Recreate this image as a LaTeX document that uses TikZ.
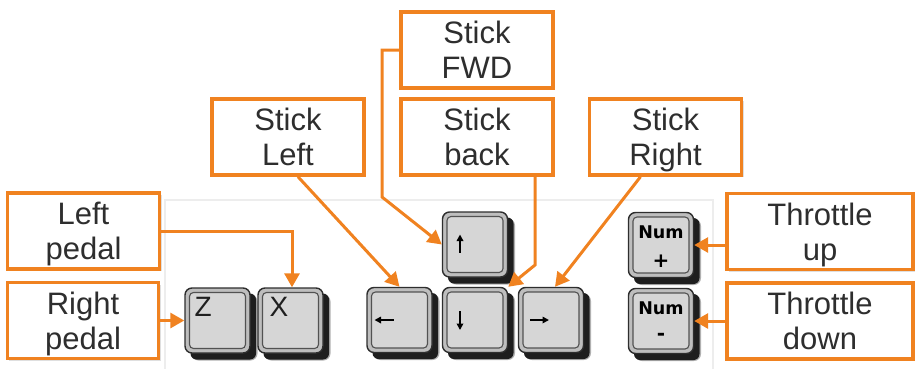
\documentclass[tikz,border=0pt]{standalone}
\usepackage{fontspec}
\setmainfont{Liberation Sans}
\newfontfamily\keyfont{DejaVu Sans}
\usetikzlibrary{arrows.meta,calc,shadows}
\definecolor{org}{RGB}{240,130,32}
\definecolor{keyface}{RGB}{214,214,214}
\definecolor{keyring}{RGB}{190,190,190}
\definecolor{keyshade}{RGB}{30,30,30}
\newcommand{\kcap}[2]{%
  \fill[keyshade!35, rounded corners=7bp] ($(#2)+(-26,-26)$) rectangle ($(#2)+(40,40)$);
  \fill[keyshade, rounded corners=6bp] ($(#2)+(-27,-27)$) rectangle ($(#2)+(38.5,39)$);
  \node[keyouter] (#1) at (#2) {};
  \node[keyinner] at (#2) {};
}
\begin{document}
\begin{tikzpicture}[x=1bp,y=-1bp,
  lbl/.style={draw=org, line width=3.5bp, fill=white, minimum width=152bp, minimum height=76bp,
    inner sep=0pt, align=center, font=\fontsize{31bp}{35bp}\selectfont, text=black!82,
    drop shadow={opacity=0.25, shadow xshift=2bp, shadow yshift=-2bp}},
  conn/.style={draw=org, line width=3bp, -{Triangle[length=14bp,width=15bp]}},
  keyouter/.style={rectangle, rounded corners=7bp, minimum width=65bp, minimum height=65bp,
    inner sep=0pt, fill=keyring, draw=black!82, line width=1.4bp},
  keyinner/.style={rectangle, rounded corners=4bp, minimum width=56bp, minimum height=56bp,
    inner sep=0pt, fill=keyface, draw=black!68, line width=1.1bp},
  keylbl/.style={font=\fontsize{28bp}{28bp}\selectfont, text=black!88, inner sep=0pt},
  numlbl/.style={font=\keyfont\bfseries\fontsize{17.5bp}{17.5bp}\selectfont, text=black, inner sep=0pt},
  numsign/.style={font=\keyfont\bfseries\fontsize{20bp}{20bp}\selectfont, text=black, inner sep=0pt},
  karrow/.style={draw=black, line width=1.8bp, -{Triangle[length=6.5bp,width=6.5bp]}}
]
\useasboundingbox (0,0) rectangle (915,369);
% keyboard panel
\draw[black!7, line width=1.2bp] (165,369) |- (713,200) -- (713,369);

% keys
\kcap{Z}{217.5,320.5}
\kcap{X}{290.5,320.5}
\kcap{kleft}{399.5,320}
\kcap{kdown}{475,320}
\kcap{kright}{551,320}
\kcap{kup}{475,244.5}
\kcap{nplus}{661,245}
\kcap{nminus}{661,321}

% key labels
\node[keylbl, anchor=base west] (zl) at ($(Z.north west)+(10,29)$) {Z};
\node[keylbl, anchor=base west] (xl) at ($(X.north west)+(12,29)$) {X};
\node[numlbl, anchor=base] (np1) at ($(nplus.north)+(0,27)$) {Num};
\node[numsign] (np2) at ($(nplus.north)+(0,49)$) {+};
\node[numlbl, anchor=base] (nm1) at ($(nminus.north)+(0,27)$) {Num};
\node[numsign] (nm2) at ($(nminus.north)+(0,49)$) {-};
\draw[karrow] ($(kup)+(-15,8)$) -- ($(kup)+(-15,-10)$);
\draw[karrow] ($(kleft)+(-6,0)$) -- ($(kleft)+(-25,0)$);
\draw[karrow] ($(kdown)+(-15,-9)$) -- ($(kdown)+(-15,10)$);
\draw[karrow] ($(kright)+(-21,0)$) -- ($(kright)+(-2,0)$);

% label boxes
\node[lbl] (fwd) at (477,50) {Stick\\FWD};
\node[lbl] (back) at (477,137) {Stick\\back};
\node[lbl] (sl) at (288,137) {Stick\\Left};
\node[lbl] (sr) at (665.5,137) {Stick\\\smash{Right}};
\node[lbl] (lp) at (83.5,231) {Left\\\smash{pedal}};
\node[lbl, minimum width=151bp] (rp) at (83,320.5) {Right\\\smash{pedal}};
\node[lbl, minimum width=186bp] (tu) at (820,231.5) {Throttle\\\smash{up}};
\node[lbl, minimum width=186bp] (td) at (820,321) {Throttle\\down};

% connectors
\coordinate (fwdbend) at (382,197);
\coordinate (backbend) at (535,265);
\draw[conn] (fwd.west) -| (fwdbend) -- (kup.west);
\draw[conn] (back.south -| backbend) -- (backbend) -- (kdown.north east);
\draw[conn] ($(sl.south)+(10,0)$) -- (kleft.north);
\draw[conn] ($(sr.south)+(-25,0)$) -- ($(kright.north)+(4,0)$);
\draw[conn] (lp.east) -| ($(X.north)+(1.5,0)$);
\draw[conn] (rp.east) -- (Z.west);
\draw[conn] (tu.west |- nplus.east) -- (nplus.east);
\draw[conn] (td.west |- nminus.east) -- (nminus.east);
\end{tikzpicture}
\end{document}
